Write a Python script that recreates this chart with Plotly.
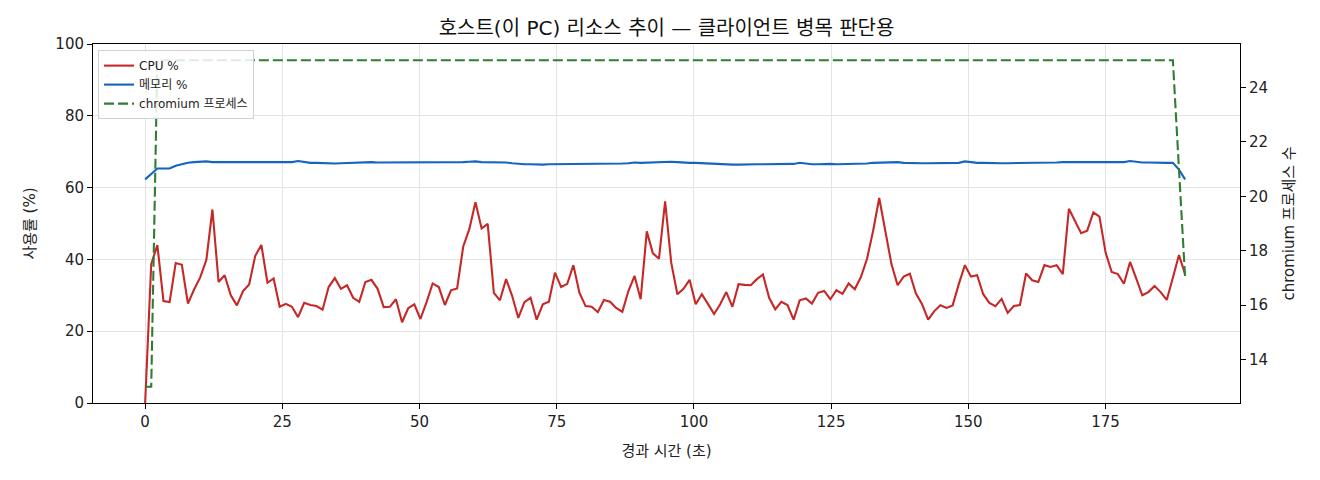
import plotly.graph_objects as go

# 샘플링 간격 ~1.115초, 171개 샘플
STEP = 1.1147
cpu_pct = [
    0.0, 38.7, 44.0, 28.4, 28.1, 39.0, 38.5, 27.7, 31.6, 35.0,
    39.8, 53.9, 33.7, 35.6, 30.0, 27.2, 31.2, 33.0, 41.0, 44.0,
    33.5, 34.7, 26.8, 27.6, 26.8, 23.9, 27.9, 27.3, 27.0, 26.0,
    32.3, 34.8, 31.8, 32.8, 29.3, 28.2, 33.7, 34.3, 31.8, 26.7,
    26.8, 28.9, 22.5, 26.4, 27.5, 23.4, 28.1, 33.3, 32.3, 27.3,
    31.4, 31.9, 43.6, 48.5, 55.9, 48.6, 49.9, 30.7, 28.6, 34.5,
    29.8, 23.7, 28.1, 29.3, 23.2, 27.5, 28.2, 36.3, 32.3, 33.2,
    38.4, 30.7, 27.0, 26.8, 25.3, 28.7, 28.2, 26.5, 25.4, 31.2,
    35.4, 28.9, 47.8, 41.7, 40.2, 56.2, 39.1, 30.3, 31.8, 34.3,
    27.5, 30.3, 27.6, 24.8, 27.5, 30.9, 26.8, 33.1, 32.9, 32.8,
    34.5, 35.8, 29.3, 26.1, 28.2, 27.3, 23.2, 28.6, 29.1, 27.7,
    30.7, 31.2, 28.9, 31.4, 30.4, 33.3, 31.7, 35.1, 40.1, 48.0,
    57.1, 47.5, 38.7, 32.8, 35.2, 36.0, 30.5, 27.5, 23.2, 25.6,
    27.2, 26.5, 27.2, 33.1, 38.4, 35.2, 35.6, 30.3, 27.9, 27.0,
    29.0, 25.1, 27.0, 27.3, 36.1, 34.2, 33.7, 38.4, 37.9, 38.4,
    35.9, 54.1, 50.8, 47.3, 48.0, 53.1, 51.9, 41.9, 36.5, 35.9,
    33.2, 39.3, 34.7, 30.0, 30.9, 32.6, 30.9, 28.7, 34.9, 41.2,
    35.9,
]
mem_pct = [
    62.3, 63.8, 65.3, 65.3, 65.3, 66.1, 66.6, 66.9, 67.1, 67.2,
    67.3, 67.1, 67.1, 67.1, 67.1, 67.0, 67.2, 67.1, 67.1, 67.2,
    67.1, 67.1, 67.1, 67.1, 67.1, 67.4, 67.1, 66.9, 66.9, 66.8,
    66.8, 66.7, 66.8, 66.9, 66.9, 67.0, 67.0, 67.1, 67.0, 67.0,
    67.0, 66.9, 66.9, 66.9, 66.9, 66.9, 67.0, 67.0, 67.1, 67.1,
    67.1, 67.1, 67.1, 67.2, 67.3, 67.1, 67.1, 67.1, 67.0, 67.0,
    66.8, 66.6, 66.5, 66.5, 66.4, 66.4, 66.5, 66.5, 66.6, 66.7,
    66.7, 66.7, 66.7, 66.7, 66.6, 66.6, 66.6, 66.7, 66.7, 66.8,
    67.0, 66.9, 67.0, 67.0, 67.1, 67.2, 67.2, 67.1, 66.9, 66.9,
    66.9, 66.8, 66.8, 66.6, 66.4, 66.4, 66.4, 66.4, 66.5, 66.5,
    66.5, 66.5, 66.5, 66.5, 66.5, 66.5, 66.6, 66.9, 66.6, 66.5,
    66.5, 66.6, 66.6, 66.5, 66.5, 66.5, 66.6, 66.6, 66.7, 66.9,
    67.0, 67.0, 67.1, 67.1, 66.9, 66.8, 66.8, 66.8, 66.8, 66.8,
    66.8, 66.8, 66.8, 66.9, 67.3, 67.0, 66.9, 66.9, 66.8, 66.8,
    66.8, 66.8, 66.8, 66.8, 66.8, 66.8, 66.8, 66.9, 66.9, 67.0,
    67.1, 67.1, 67.1, 67.1, 67.0, 67.0, 67.0, 67.0, 67.0, 67.1,
    67.1, 67.4, 67.1, 67.0, 67.0, 66.9, 66.9, 66.9, 66.9, 65.0,
    62.3,
]
chromium_cnt = [13, 13] + [25] * 167 + [21, 17]

elapsed = [round(i * STEP, 2) for i in range(len(cpu_pct))]

x_ticks = [0, 25, 50, 75, 100, 125, 150, 175]
# 라틴/숫자는 DejaVu, 한글은 Noto CJK 로 폴백
font_family = "DejaVu Sans, Noto Sans CJK KR, sans-serif"

fig = go.Figure()
fig.add_trace(go.Scatter(x=elapsed, y=cpu_pct, mode="lines", name="CPU %",
                         line=dict(color="#c62828", width=2.1)))
fig.add_trace(go.Scatter(x=elapsed, y=mem_pct, mode="lines", name="메모리 %",
                         line=dict(color="#1565c0", width=2.1)))
fig.add_trace(go.Scatter(x=elapsed, y=chromium_cnt, mode="lines", name="chromium 프로세스",
                         yaxis="y2", line=dict(color="#2e7d32", width=2.1, dash="10px,4px")))

axis_common = dict(
    showline=True, linecolor="black", linewidth=1, ticks="outside", ticklen=5,
    tickcolor="black", zeroline=False, tickfont=dict(size=15, color="#222"),
)
# 페이지 body 여백(8px)을 감안한 크기
fig.update_layout(
    width=1312, height=472,
    margin=dict(l=85, r=80, t=36, b=77),
    paper_bgcolor="white", plot_bgcolor="white",
    font=dict(family=font_family, size=15, color="#222"),
    title=dict(text="호스트(이 PC) 리소스 추이 — 클라이언트 병목 판단용",
               xref="paper", x=0.5, xanchor="center",
               yref="container", y=0.958, yanchor="middle",
               font=dict(size=20, color="#111")),
    xaxis=dict(range=[-9.5, 199.5], tickvals=x_ticks, mirror=True,
               showgrid=True, gridcolor="#e4e4e4",
               title=dict(text="경과 시간 (초)", font=dict(size=15), standoff=15),
               **axis_common),
    yaxis=dict(range=[0, 100], dtick=20, mirror=True,
               showgrid=True, gridcolor="#e4e4e4",
               title=dict(text="사용률 (%)", font=dict(size=15), standoff=16),
               **axis_common),
    yaxis2=dict(range=[12.4, 25.6], tickvals=[14, 16, 18, 20, 22, 24],
                overlaying="y", side="right", showgrid=False,
                title=dict(text="chromium 프로세스 수", font=dict(size=15), standoff=16),
                **axis_common),
    legend=dict(x=0.0044, y=0.983, xanchor="left", yanchor="top",
                bgcolor="rgba(255,255,255,0.85)", bordercolor="#d0d0d0", borderwidth=1,
                font=dict(size=12), itemwidth=30),
    showlegend=True,
)

fig.write_html("out.html")
